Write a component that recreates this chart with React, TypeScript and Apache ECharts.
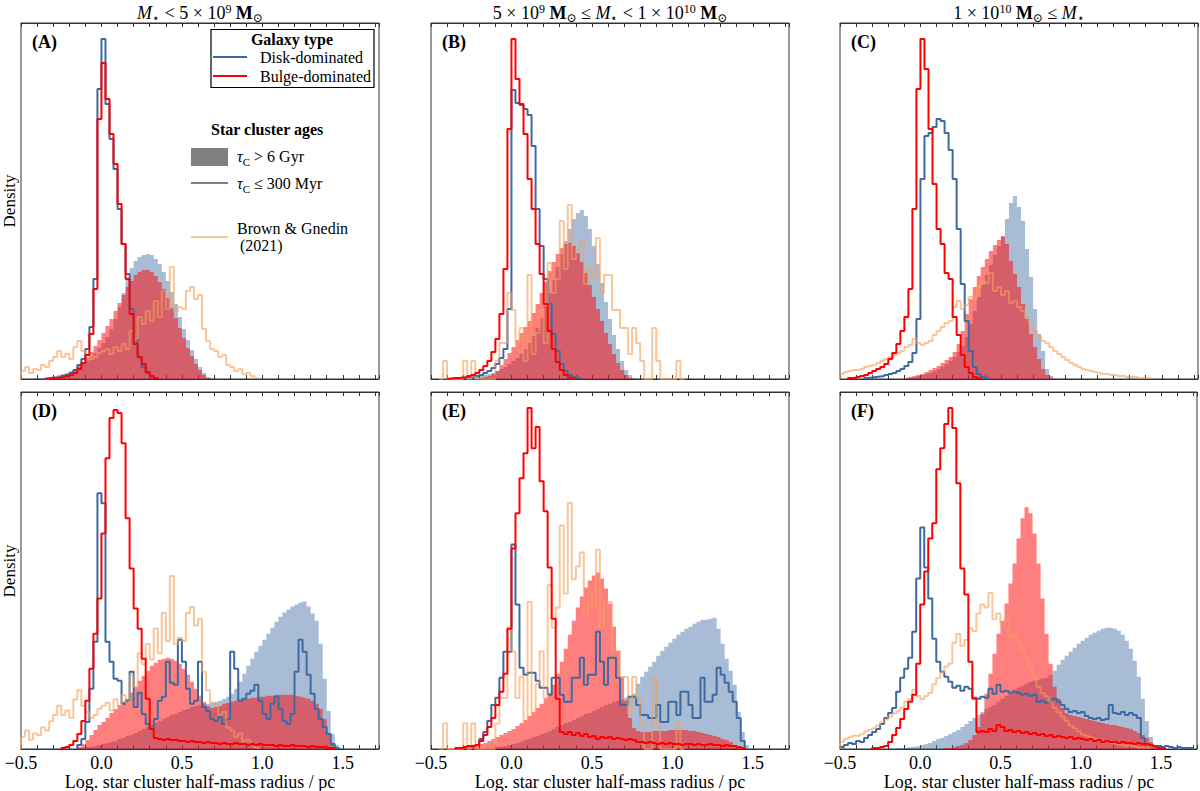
import React, { useEffect, useRef } from 'react';
import * as echarts from 'echarts';

// Histograms of log10 star-cluster half-mass radius (pc), one bin = 0.025 dex.
// Each histogram: x0 = left edge of first bin, h = bin heights (density, panel units).
type Hist = { x0: number; h: number[] };

const BIN = 0.025;
const X_MIN = -0.5;
const X_MAX = 1.725;
const Y_TOP = 356;

const LABELLED_TICKS = [-0.5, 0, 0.5, 1, 1.5];
const LABEL_TEXT = ['\u22120.5', '0.0', '0.5', '1.0', '1.5'];

const COLUMN_TITLES = [
  '{i|M}{sb|\u22c6} < 5 \u00d7 10{sp|9} {b|M}{sb|\u2299}',
  '5 \u00d7 10{sp|9} {b|M}{sb|\u2299} \u2264 {i|M}{sb|\u22c6} < 1 \u00d7 10{sp|10} {b|M}{sb|\u2299}',
  '1 \u00d7 10{sp|10} {b|M}{sb|\u2299} \u2264 {i|M}{sb|\u22c6}',
];
const PANEL_LABELS = ['(A)', '(B)', '(C)', '(D)', '(E)', '(F)'];
const X_TITLE = 'Log. star cluster half-mass radius / pc';

// ---- Brown & Gnedin (2021) reference samples, one per stellar-mass column ----
const bg21Low: Hist = { x0: -0.5, h: [8,12,6,10,9,14,12,18,22,28,22,25,20,32,38,28,24,20,22,26,28,30,25,32,28,35,30,48,40,62,55,68,58,78,62,88,70,112,68,72,70,88,92,80,84,50,38,30,28,22,24,14,12,8,10,5,6,3,1] };
const bg21Mid: Hist = { x0: -0.45, h: [0,18,0,0,0,0,18,0,18,0,0,0,0,0,18,36,36,86,69,36,51,18,104,25,46,69,36,116,86,100,158,110,174,120,129,139,95,110,100,141,86,104,104,69,69,51,51,25,51,36,18,0,0,51,18,0,0,0,0,18,0] };
const bg21High: Hist = { x0: -0.5, h: [5,7,8,9,9,10,12,13,14,16,18,20,22,24,26,28,32,34,40,36,34,36,38,44,48,52,56,58,72,78,70,74,82,80,92,98,96,106,88,92,84,88,76,78,72,68,62,55,48,42,38,36,32,28,25,22,19,16,14,12,10,9,8,7,6,5,5,4,4,3,3,2,2,2,1,1,1] };
// density normalisation of the reference sample relative to each panel's scale
const BG21_SCALE = [1, 1, 1, 1.54, 1.41, 1.47];

// ---- Panel A ----
const oldDiskA: Hist = { x0: -0.45, h: [0.5,1,1,1.5,2,2.5,3,4,5,6,8,10,12,15,18,22,26,31,36,42,50,60,72,86,100,111,118,122,124,125,124,120,115,107,98,87,75,62,50,39,29,20,12,6,2,0.5] };
const youngDiskA: Hist = { x0: -0.35, h: [0.5,1,1.5,2,3,4,6,9,14,20,30,52,100,290,340,275,240,210,170,135,105,70,40,22,12,6,2,1] };
const oldBulgeA: Hist = { x0: -0.3, h: [1,2,3,5,7,10,13,17,22,27,33,39,46,53,60,68,76,84,92,98,104,107,109,109,107,103,97,90,81,71,61,51,41,31,23,15,9,4,1] };
const youngBulgeA: Hist = { x0: -0.35, h: [0.5,1,1,1.5,2,3,4,6,10,16,24,45,90,260,316,280,245,215,175,135,100,65,35,22,15,7,3,1] };

// ---- Panel B ----
const oldDiskB: Hist = { x0: -0.3, h: [0.5,1,1.5,2,3,4,5,6,8,10,12,15,18,21,25,30,36,43,51,61,73,86,99,112,125,138,150,160,166,169,163,150,133,115,96,77,60,44,30,18,9,4,1] };
const youngDiskB: Hist = { x0: -0.35, h: [0.5,1,1,1.5,2,3,4,6,8,11,15,21,30,70,289,276,274,270,264,233,170,133,100,75,45,28,15,8,4,2,1] };
const oldBulgeB: Hist = { x0: -0.2, h: [1,2,3,5,8,14,20,26,32,39,46,52,58,66,75,86,97,108,117,125,131,135,136,133,126,117,106,94,82,70,58,46,35,25,16,9,4,1] };
const youngBulgeB: Hist = { x0: -0.4, h: [0.5,1,1,1.5,2,3,4,6,9,13,18,27,40,65,110,250,340,300,275,245,200,170,135,105,75,48,30,17,9,4,1.5,0.5] };

// ---- Panel C ----
const oldDiskC: Hist = { x0: -0.1, h: [1,1.5,2,3,4,5,6,8,10,12,15,18,22,27,33,42,55,68,82,94,104,114,124,133,142,160,176,183,172,158,130,102,70,45,28,10,3,1] };
const youngDiskC: Hist = { x0: -0.35, h: [1,1.5,2,2.5,3,4,5,6,8,10,13,17,26,60,200,243,246,252,260,258,246,229,200,150,95,58,28,12,5,2,1] };
const oldBulgeC: Hist = { x0: -0.1, h: [1,2,3,4,5,7,9,11,13,16,19,22,27,35,48,65,80,92,103,112,120,128,134,139,143,135,118,105,92,75,60,45,32,20,10,4,1] };
const youngBulgeC: Hist = { x0: -0.45, h: [1,1,2,3,4,6,8,10,12,15,20,26,35,48,62,90,170,290,340,310,250,195,150,135,106,100,62,44,24,12,6,2,1] };

// ---- Panel D ----
const oldDiskD: Hist = { x0: -0.15, h: [1,1,2,2,3,4,5,6,7,8,10,11,13,14,16,18,20,22,24,26,28,30,32,34,35,37,39,40,42,43,44,45,45,46,47,48,50,52,55,60,67,75,83,90,97,103,109,115,121,127,132,136,139,142,144,146,147,142,135,128,105,70,38,15,4,1] };
const youngDiskD: Hist = { x0: -0.15, h: [4,10,27,60,107,255,245,107,87,70,68,45,48,77,42,56,35,25,20,30,48,52,87,66,64,109,87,60,45,48,87,42,38,30,28,32,25,30,97,80,48,50,55,58,64,48,35,30,45,52,40,28,25,35,77,109,97,74,55,40,30,22,15,5,1] };
const oldBulgeD: Hist = { x0: -0.15, h: [2,5,9,14,19,24,27,31,36,40,44,47,50,56,62,68,73,78,83,86,89,90,91,90,88,85,80,74,67,60,53,47,43,41,42,43,45,46,47,48,49,50,50,51,51,52,52,53,53,54,54,54,54,54,53,52,51,50,48,45,40,30,16,6,1] };
const youngBulgeD: Hist = { x0: -0.25, h: [1,2,4,8,15,28,48,80,115,150,215,290,330,338,335,305,230,180,140,120,90,50,20,11,10,9,10,9,9,8,8,7,8,7,7,6,7,6,6,5,6,5,5,6,5,5,4,5,4,5,4,4,4,3,4,3,3,4,3,3,3,2,3,2,2,2,1,1] };

// ---- Panel E ----
const oldDiskE: Hist = { x0: -0.15, h: [1,1,2,2,3,4,5,6,7,9,10,12,13,15,16,18,20,22,24,26,27,29,31,33,35,36,38,40,42,44,45,47,48,49,51,53,55,65,72,77,82,87,93,98,102,106,110,114,117,120,122,125,127,129,129,130,131,120,105,90,78,64,37,17,4] };
const youngDiskE: Hist = { x0: -0.25, h: [2,4,10,17,28,44,51,71,97,97,204,144,81,74,76,76,68,61,61,54,71,71,54,47,47,71,71,91,64,74,74,117,87,64,91,91,71,44,44,52,52,44,34,34,31,31,44,27,27,47,47,34,57,57,44,31,31,71,47,47,54,81,74,66,57,47,31,8] };
const oldBulgeE: Hist = { x0: -0.3, h: [1,2,3,4,5,6,8,10,12,14,16,18,20,23,26,29,33,37,41,45,50,56,64,75,87,100,114,128,141,152,161,168,173,176,170,160,145,122,98,72,48,31,21,18,17,17,17,18,18,18,18,19,19,19,19,19,18,18,17,16,15,14,13,12,10,9,7,4,2,1] };
const youngBulgeE: Hist = { x0: -0.35, h: [1,1,2,3,3,4,8,14,22,31,44,57,75,120,200,235,270,295,340,300,321,267,237,181,130,50,17,15,17,14,16,13,15,12,13,10,12,11,12,10,11,10,9,10,9,7,7,6,7,6,5,6,5,6,5,5,4,5,5,4,5,4,4,5,4,4,3,4,3,3,2,1] };

// ---- Panel F ----
const oldDiskF: Hist = { x0: -0.15, h: [1,1,1.5,2,2.5,3,4,5,6,8,10,11,13,15,17,19,22,25,28,31,34,37,40,42,44,47,50,53,56,59,61,63,65,67,68,69,70,71,74,78,84,89,93,97,101,105,108,111,114,116,118,120,121,121,120,118,114,108,100,88,72,50,28,12,4,1] };
const youngDiskF: Hist = { x0: -0.5, h: [2,4,6,5,8,7,11,14,17,20,25,31,36,41,57,71,80,91,117,170,221,181,150,110,87,77,72,67,61,63,58,62,60,51,50,52,51,60,55,64,57,58,56,57,56,54,55,53,54,47,48,46,47,50,47,44,40,37,38,36,37,33,31,30,31,29,30,44,36,35,37,34,36,34,31,11,5,4,3,3,2,3,2,1,2,1,1,1] };
const oldBulgeF: Hist = { x0: 0.15, h: [1,1,2,3,4,6,9,14,22,35,55,75,95,115,128,145,165,185,210,230,241,235,215,185,150,115,85,62,50,41,36,34,33,32,31,30,29,28,27,26,25,24,24,23,22,21,20,18,16,14,11,7,4,1] };
const youngBulgeF: Hist = { x0: -0.3, h: [1,1,2,3,7,14,21,30,40,47,54,85,144,177,210,225,279,300,324,340,320,265,180,154,87,50,17,18,17,20,18,24,22,18,19,17,18,16,17,15,16,14,15,13,14,12,13,12,11,12,10,11,10,9,10,8,9,7,8,7,7,6,7,6,6,5,6,5,5,4,3,1,1] };

const PANELS = [
  { oldDisk: oldDiskA, youngDisk: youngDiskA, oldBulge: oldBulgeA, youngBulge: youngBulgeA, bg21: bg21Low },
  { oldDisk: oldDiskB, youngDisk: youngDiskB, oldBulge: oldBulgeB, youngBulge: youngBulgeB, bg21: bg21Mid },
  { oldDisk: oldDiskC, youngDisk: youngDiskC, oldBulge: oldBulgeC, youngBulge: youngBulgeC, bg21: bg21High },
  { oldDisk: oldDiskD, youngDisk: youngDiskD, oldBulge: oldBulgeD, youngBulge: youngBulgeD, bg21: bg21Low },
  { oldDisk: oldDiskE, youngDisk: youngDiskE, oldBulge: oldBulgeE, youngBulge: youngBulgeE, bg21: bg21Mid },
  { oldDisk: oldDiskF, youngDisk: youngDiskF, oldBulge: oldBulgeF, youngBulge: youngBulgeF, bg21: bg21High },
];

// ---- styling ----
const SERIF = "'Liberation Serif', 'DejaVu Serif', serif";
const AXIS_COLOR = '#333333';
const BLUE = '#3e6aa1';
const BLUE_FILL = 'rgba(62,106,161,0.45)';
const RED = '#ff0000';
const RED_FILL = 'rgba(255,0,0,0.5)';
const ORANGE = 'rgba(245,160,90,0.6)';
const GRID_LEFT = [21, 431, 840];
const GRID_TOP = [23, 392];
const GRID_H = [356, 357];
const GRID_W = 358;

function stepPoints(hist: Hist): number[][] {
  const pts: number[][] = [[hist.x0, 0]];
  hist.h.forEach((v, i) => pts.push([+(hist.x0 + i * BIN).toFixed(4), v]));
  pts.push([+(hist.x0 + hist.h.length * BIN).toFixed(4), 0]);
  return pts;
}

function tickLabel(v: number): string {
  const k = LABELLED_TICKS.findIndex((t) => Math.abs(t - v) < 1e-6);
  return k >= 0 ? LABEL_TEXT[k] : '';
}

function richStyles(size: number, lh: number) {
  const small = Math.round(size * 0.68);
  return {
    i: { fontFamily: SERIF, fontSize: size, fontStyle: 'italic', lineHeight: lh },
    b: { fontFamily: SERIF, fontSize: size, fontWeight: 'bold', lineHeight: lh },
    sp: { fontFamily: SERIF, fontSize: small, lineHeight: small, verticalAlign: 'top' },
    sb: { fontFamily: SERIF, fontSize: small, lineHeight: small, verticalAlign: 'bottom' },
  };
}

function text(x: number, y: number, str: string, o: any = {}) {
  const size = o.size ?? 16;
  const align = o.align ?? 'left';
  return {
    type: 'text',
    x,
    y,
    rotation: o.rotation ?? 0,
    z: 100,
    silent: true,
    style: {
      text: str,
      fill: '#000',
      fontFamily: SERIF,
      fontSize: size,
      fontWeight: o.weight ?? 'normal',
      lineHeight: o.lh ?? size + 4,
      align,
      textAlign: align,
      verticalAlign: 'middle',
      textVerticalAlign: 'middle',
      rich: o.rich,
    },
  };
}

function buildOption() {
  const grid: any[] = [];
  const xAxis: any[] = [];
  const yAxis: any[] = [];
  const series: any[] = [];

  PANELS.forEach((p, i) => {
    const r = Math.floor(i / 3);
    const c = i % 3;
    grid.push({
      left: GRID_LEFT[c],
      top: GRID_TOP[r],
      width: GRID_W,
      height: GRID_H[r],
      show: true,
      borderColor: AXIS_COLOR,
      borderWidth: 1,
      backgroundColor: 'transparent',
    });
    const common = {
      gridIndex: i,
      type: 'value',
      min: X_MIN,
      max: X_MAX,
      interval: 0.1,
      splitLine: { show: false },
      axisLine: { show: true, onZero: false, lineStyle: { color: AXIS_COLOR, width: 1 } },
      axisTick: { show: true, inside: true, length: 4, lineStyle: { color: AXIS_COLOR, width: 1 } },
    };
    xAxis.push({
      ...common,
      position: 'bottom',
      axisLabel: {
        show: r === 1,
        formatter: tickLabel,
        fontFamily: SERIF,
        fontSize: 18,
        color: '#000',
        margin: 5,
      },
    });
    xAxis.push({ ...common, position: 'top', axisLabel: { show: false } });
    yAxis.push({ gridIndex: i, type: 'value', min: 0, max: Y_TOP, show: false });
    yAxis.push({ gridIndex: i, type: 'value', min: 0, max: Y_TOP / BG21_SCALE[i], show: false });

    const xi = 2 * i;
    const yi = 2 * i;
    const base = { type: 'line', step: 'end', symbol: 'none', showSymbol: false, silent: true, xAxisIndex: xi };
    const fill = (h: Hist, color: string) => ({
      ...base,
      yAxisIndex: yi,
      data: stepPoints(h),
      lineStyle: { width: 0, opacity: 0 },
      areaStyle: { color, opacity: 1 },
    });
    const line = (h: Hist, color: string, yIndex: number) => ({
      ...base,
      yAxisIndex: yIndex,
      data: stepPoints(h),
      lineStyle: { color, width: 2 },
    });
    series.push(fill(p.oldDisk, BLUE_FILL));
    series.push(line(p.youngDisk, BLUE, yi));
    series.push(line(p.bg21, ORANGE, yi + 1));
    series.push(fill(p.oldBulge, RED_FILL));
    series.push(line(p.youngBulge, RED, yi));
  });

  const graphics: any[] = [];
  const colCenters = GRID_LEFT.map((l) => l + GRID_W / 2);
  COLUMN_TITLES.forEach((t, c) => {
    graphics.push(text(colCenters[c], 13, t, { size: 18, align: 'center', lh: 21, rich: richStyles(18, 21) }));
    graphics.push(text(colCenters[c], 782, X_TITLE, { size: 18, align: 'center' }));
  });
  [201, 571].forEach((y) => graphics.push(text(9, y, 'Density', { size: 17, align: 'center', rotation: Math.PI / 2 })));
  PANEL_LABELS.forEach((lab, i) => {
    const r = Math.floor(i / 3);
    const c = i % 3;
    graphics.push(text(GRID_LEFT[c] + 11, GRID_TOP[r] + 19, lab, { size: 18, weight: 'bold' }));
  });

  // legend: galaxy type
  graphics.push({
    type: 'rect', z: 99, silent: true,
    shape: { x: 211, y: 29.5, width: 163, height: 58 },
    style: { fill: '#ffffff', stroke: '#000000', lineWidth: 1.2 },
  });
  graphics.push(text(292, 39, 'Galaxy type', { size: 16, weight: 'bold', align: 'center' }));
  graphics.push({ type: 'line', z: 100, silent: true, shape: { x1: 213, y1: 57, x2: 247, y2: 57 }, style: { stroke: BLUE, lineWidth: 2 } });
  graphics.push(text(260, 57, 'Disk-dominated', { size: 16 }));
  graphics.push({ type: 'line', z: 100, silent: true, shape: { x1: 213, y1: 76, x2: 247, y2: 76 }, style: { stroke: RED, lineWidth: 2 } });
  graphics.push(text(260, 76, 'Bulge-dominated', { size: 16 }));

  // legend: cluster ages and reference sample
  graphics.push(text(211, 129, 'Star cluster ages', { size: 16, weight: 'bold' }));
  graphics.push({ type: 'rect', z: 100, silent: true, shape: { x: 191, y: 148, width: 37, height: 18 }, style: { fill: '#808080' } });
  graphics.push(text(237, 156, '{i|\u03c4}{sb|C} > 6 Gyr', { size: 16, lh: 22, rich: richStyles(16, 22) }));
  graphics.push({ type: 'line', z: 100, silent: true, shape: { x1: 191, y1: 183, x2: 228, y2: 183 }, style: { stroke: '#555555', lineWidth: 1.5 } });
  graphics.push(text(237, 183, '{i|\u03c4}{sb|C} \u2264 300 Myr', { size: 16, lh: 22, rich: richStyles(16, 22) }));
  graphics.push({ type: 'line', z: 100, silent: true, shape: { x1: 191, y1: 237, x2: 228, y2: 237 }, style: { stroke: ORANGE, lineWidth: 2 } });
  graphics.push(text(237, 228, 'Brown & Gnedin', { size: 16 }));
  graphics.push(text(240, 245, '(2021)', { size: 16 }));

  return {
    animation: false,
    backgroundColor: '#ffffff',
    grid,
    xAxis,
    yAxis,
    series,
    graphic: { elements: graphics },
  };
}

export default function App() {
  const ref = useRef<HTMLDivElement>(null);
  useEffect(() => {
    if (!ref.current) return;
    const chart = echarts.init(ref.current, null, { renderer: 'svg' });
    chart.setOption(buildOption() as any);
    return () => chart.dispose();
  }, []);
  return (
    <div
      ref={ref}
      style={{ position: 'absolute', left: 0, top: 0, width: 1200, height: 791, background: '#fff' }}
    />
  );
}
